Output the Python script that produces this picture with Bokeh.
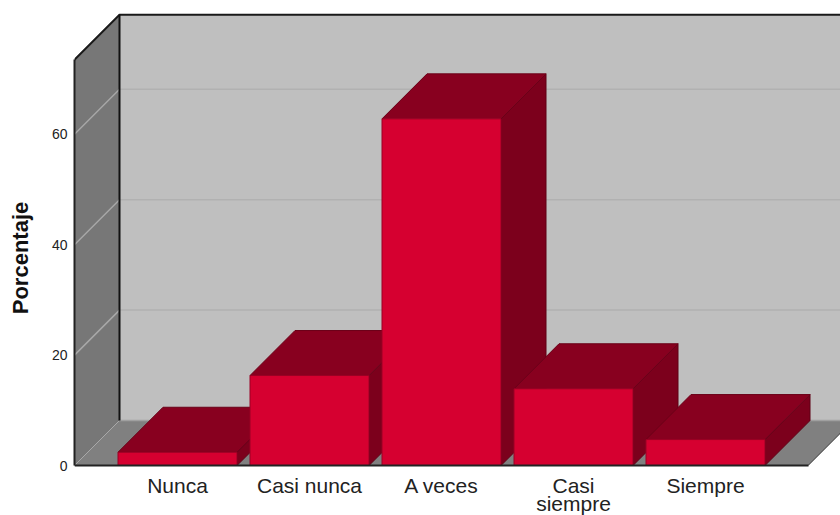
from bokeh.embed import file_html
from bokeh.models import FixedTicker, Range1d
from bokeh.plotting import figure
from bokeh.resources import INLINE

# Percentage of answers per frequency category
categories = ["Nunca", "Casi nunca", "A veces", "Casi\nsiempre", "Siempre"]
porcentaje = [2.4, 16.3, 62.8, 13.9, 4.7]
y_ticks = [0, 20, 40, 60]

# Scale of the frame: category pitch and value step, in screen pixels
PX_PER_CATEGORY = 132.0
PX_PER_PERCENT = 5.52
FRAME_W, FLOOR_PX, BELOW_PX = 766, 465, 50

# Oblique projection of the box and the half width of each column
DX = 45 / PX_PER_CATEGORY
DY = 45 / PX_PER_PERCENT
HALF = 59.5 / PX_PER_CATEGORY
X0 = -103 / PX_PER_CATEGORY
X1 = 4.777
Y_TOP = 73.5

p = figure(
    width=840, height=515, output_backend="svg", toolbar_location=None,
    x_range=Range1d(X0, X0 + FRAME_W / PX_PER_CATEGORY),
    y_range=Range1d(-BELOW_PX / PX_PER_PERCENT, FLOOR_PX / PX_PER_PERCENT),
    min_border_left=74, min_border_right=0, min_border_top=0, min_border_bottom=0,
    background_fill_color="white", border_fill_color="white",
)
p.outline_line_color = None
p.grid.visible = False

# Back wall, left wall and floor of the box
p.patch([X0 + DX, X1 + 2 * DX, X1 + 2 * DX, X0 + DX], [DY, DY, Y_TOP + DY, Y_TOP + DY],
        fill_color="#bfbfbf", line_color=None)
p.patch([X0, X0 + DX, X0 + DX, X0], [0, DY, Y_TOP + DY, Y_TOP],
        fill_color="#777777", line_color=None)
p.patch([X0, X0 + DX, X1 + DX, X1], [0, DY, DY, 0],
        fill_color="#808080", line_color=None)

# Grid lines run across the left wall and along the back wall
for t in y_ticks[1:]:
    p.line([X0, X0 + DX], [t, t + DY], line_color="#a8a8a8", line_width=1.5)
    p.line([X0 + DX, X1 + 2 * DX], [t + DY, t + DY], line_color="#b1b1b1", line_width=1.5)
p.line([X0, X0 + DX], [0, DY], line_color="#a8a8a8", line_width=1)
p.line([X0 + DX, X1 + DX], [DY, DY], line_color="#a0a0a0", line_width=1.5)

# Box edges
p.line([X0, X0 + DX, X1 + 2 * DX], [Y_TOP, Y_TOP + DY, Y_TOP + DY], line_color="#1a1a1a", line_width=2)
p.line([X0 + DX, X0 + DX], [DY, Y_TOP + DY], line_color="#111111", line_width=2)
p.line([X1, X1 + DX], [0, DY], line_color="#333333", line_width=1)

# Columns, drawn left to right so each one overlaps its neighbour's depth faces
for i, v in enumerate(porcentaje):
    l, r = i - HALF, i + HALF
    p.patch([r, r + DX, r + DX, r], [0, DY, v + DY, v],
            fill_color="#7c001c", line_color="#5e0015", line_width=1)
    p.patch([l, r, r + DX, l + DX], [v, v, v + DY, v + DY],
            fill_color="#88001f", line_color="#6b0018", line_width=1)
    p.patch([l, r, r, l], [0, 0, v, v],
            fill_color="#d60030", line_color="#9a0024", line_width=1)

# The category axis sits on the floor line, inside the frame
p.xaxis.fixed_location = 0
p.xaxis.ticker = FixedTicker(ticks=list(range(len(categories))))
p.xaxis.major_label_overrides = {i: c for i, c in enumerate(categories)}
p.xaxis.major_label_text_font = "Liberation Sans"
p.xaxis.major_label_text_font_size = "21px"
p.xaxis.major_label_text_color = "#222222"
p.xaxis.major_label_text_line_height = 0.8
p.xaxis.major_label_standoff = 2
p.xaxis.major_tick_line_color = None
p.xaxis.minor_tick_line_color = None
p.xaxis.axis_line_color = "#222222"
p.xaxis.axis_line_width = 2
p.xaxis.bounds = (X0, X1)

p.yaxis.ticker = FixedTicker(ticks=y_ticks)
p.yaxis.bounds = (0, Y_TOP)
p.yaxis.major_label_text_font = "Liberation Sans"
p.yaxis.major_label_text_font_size = "14px"
p.yaxis.major_label_text_color = "#222222"
p.yaxis.major_label_standoff = 1
p.yaxis.major_tick_line_color = None
p.yaxis.minor_tick_line_color = None
p.yaxis.axis_line_color = "#222222"
p.yaxis.axis_line_width = 2
p.yaxis.axis_label = "Porcentaje"
p.yaxis.axis_label_text_font = "Liberation Sans"
p.yaxis.axis_label_text_font_style = "bold"
p.yaxis.axis_label_text_font_size = "22px"
p.yaxis.axis_label_text_color = "#111111"
p.yaxis.axis_label_standoff = 16

open("out.html", "w").write(file_html(p, INLINE))
